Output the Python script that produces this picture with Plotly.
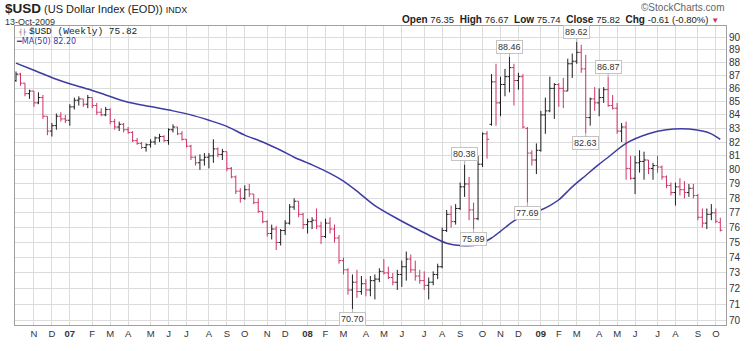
import math
import pandas as pd
import plotly.graph_objects as go

# ---------------- data (weekly bars) ----------------
first_week = "2006-10-09"
n_weeks = 158
dates = pd.date_range(first_week, periods=n_weeks, freq="7D")

opens = [86.6, 87.1, 86.4, 85.6, 85.8, 84.9, 85.3, 83.9, 82.8, 83.2,
         83.9, 83.7, 83.6, 84.6, 85.1, 85.2, 84.8, 85.3, 84.7, 84.2,
         84.0, 84.4, 83.5, 83.1, 83.3, 82.9, 82.7, 82.1, 81.9, 81.6,
         81.8, 82.0, 82.3, 82.4, 82.1, 82.9, 83.1, 82.6, 82.2, 81.7,
         80.9, 80.5, 80.7, 80.9, 81.0, 81.5, 81.1, 81.3, 80.1, 79.5,
         78.5, 78.0, 78.6, 78.3, 77.7, 77.1, 76.4, 75.6, 75.9, 75.0,
         75.8, 76.3, 77.4, 77.8, 76.9, 76.2, 76.4, 76.5, 76.1, 75.4,
         76.3, 75.9, 75.3, 73.8, 73.2, 71.9, 72.4, 71.8, 72.3, 71.9,
         72.5, 72.6, 73.1, 73.0, 72.7, 72.4, 72.9, 73.4, 73.9, 73.2,
         72.8, 72.5, 72.2, 72.4, 72.9, 73.4, 75.8, 76.9, 76.4, 77.3,
         78.8, 79.0, 77.2, 76.6, 80.4, 82.6, 83.3, 86.5, 84.9, 86.3,
         86.9, 87.6, 86.6, 86.9, 83.0, 81.2, 80.7, 81.4, 84.0, 84.3,
         86.0, 86.3, 86.0, 85.8, 87.9, 88.1, 88.8, 87.5, 83.8, 85.2,
         84.9, 85.3, 85.9, 84.7, 84.5, 82.8, 83.1, 80.1, 79.4, 80.5,
         80.6, 80.7, 80.1, 80.3, 80.2, 79.5, 78.9, 78.4, 78.8, 78.6,
         78.4, 78.7, 78.2, 76.7, 76.3, 76.9, 77.0, 76.35]
highs = [87.3, 87.2, 86.4, 85.9, 85.8, 85.7, 85.5, 83.9, 83.4, 84.1,
         84.2, 84.0, 84.8, 85.3, 85.4, 85.2, 85.5, 85.3, 84.9, 84.5,
         84.6, 84.5, 83.7, 83.5, 83.4, 83.1, 82.8, 82.3, 82.0, 81.9,
         82.2, 82.4, 82.6, 82.5, 83.0, 83.3, 83.1, 82.8, 82.2, 81.8,
         81.0, 81.1, 81.2, 81.2, 82.2, 81.6, 81.5, 81.3, 80.2, 79.6,
         78.7, 78.9, 79.0, 78.3, 78.0, 77.1, 76.5, 76.2, 76.1, 75.9,
         76.5, 77.6, 78.0, 77.8, 77.0, 76.6, 76.7, 77.3, 76.4, 76.6,
         76.7, 76.2, 75.5, 74.0, 73.3, 72.9, 73.2, 72.8, 72.6, 72.8,
         72.9, 73.3, 73.9, 73.4, 73.0, 73.2, 73.8, 74.4, 74.2, 73.8,
         73.2, 73.1, 72.7, 73.1, 73.6, 76.0, 77.2, 77.5, 77.6, 79.1,
         80.38, 79.5, 77.7, 81.0, 82.7, 82.8, 87.1, 87.9, 86.9, 87.5,
         88.46, 87.9, 87.2, 87.1, 83.1, 81.4, 81.9, 84.3, 85.3, 86.9,
         86.4, 86.4, 86.8, 88.3, 88.7, 89.62, 89.4, 88.6, 85.3, 86.1,
         86.0, 86.1, 86.87, 85.5, 84.9, 83.4, 83.5, 81.0, 81.0, 81.4,
         81.3, 80.7, 80.5, 81.0, 80.3, 79.6, 79.1, 79.1, 79.4, 79.2,
         79.0, 79.0, 78.3, 77.3, 77.3, 77.6, 77.3, 76.67]
lows = [86.5, 86.2, 85.4, 85.2, 84.6, 84.8, 83.7, 82.5, 82.4, 82.9,
        83.5, 83.4, 83.2, 84.4, 84.7, 84.6, 84.5, 84.5, 84.0, 83.9,
        83.9, 83.3, 82.9, 82.8, 82.7, 82.6, 82.0, 81.8, 81.5, 81.3,
        81.6, 81.8, 82.0, 82.0, 81.8, 82.7, 82.5, 82.1, 81.6, 80.7,
        80.3, 80.0, 80.3, 80.1, 80.5, 80.9, 80.7, 79.9, 79.4, 78.3,
        77.7, 77.9, 78.1, 77.6, 77.0, 76.3, 75.4, 75.2, 74.5, 74.8,
        75.5, 76.2, 77.2, 76.7, 75.9, 75.6, 75.9, 75.9, 74.9, 75.3,
        75.6, 75.0, 73.6, 72.9, 71.6, 70.70, 71.4, 71.6, 71.5, 71.5,
        71.3, 72.4, 72.9, 72.6, 72.2, 71.9, 72.1, 72.5, 73.0, 72.5,
        72.3, 71.9, 71.3, 72.2, 72.6, 73.3, 75.7, 76.0, 76.2, 77.2,
        78.1, 76.5, 75.89, 76.5, 80.2, 80.8, 83.2, 83.2, 83.9, 85.4,
        85.7, 84.7, 85.9, 83.0, 77.69, 80.3, 79.7, 81.3, 82.6, 84.2,
        83.7, 84.6, 84.5, 85.8, 86.8, 87.9, 87.2, 82.63, 83.2, 84.3,
        83.9, 84.9, 84.6, 84.4, 82.6, 82.0, 79.3, 79.3, 78.3, 79.8,
        79.3, 79.7, 79.3, 79.8, 79.3, 78.7, 78.2, 77.5, 78.2, 78.0,
        78.1, 78.0, 76.5, 76.0, 75.9, 76.5, 76.3, 75.74]
closes = [87.1, 86.4, 85.6, 85.8, 84.9, 85.3, 83.9, 82.8, 83.2, 83.9,
          83.7, 83.6, 84.6, 85.1, 85.2, 84.8, 85.3, 84.7, 84.2, 84.0,
          84.4, 83.5, 83.1, 83.3, 82.9, 82.7, 82.1, 81.9, 81.6, 81.8,
          82.0, 82.3, 82.4, 82.1, 82.9, 83.1, 82.6, 82.2, 81.7, 80.9,
          80.5, 80.7, 80.9, 81.0, 81.5, 81.1, 81.3, 80.1, 79.5, 78.5,
          78.0, 78.6, 78.3, 77.7, 77.1, 76.4, 75.6, 75.9, 75.0, 75.8,
          76.3, 77.4, 77.8, 76.9, 76.2, 76.4, 76.5, 76.1, 75.4, 76.3,
          75.9, 75.3, 73.8, 73.2, 71.9, 72.4, 71.8, 72.3, 71.9, 72.5,
          72.6, 73.1, 73.0, 72.7, 72.4, 72.9, 73.4, 73.9, 73.2, 72.8,
          72.5, 72.2, 72.4, 72.9, 73.4, 75.8, 76.9, 76.4, 77.3, 78.8,
          79.0, 77.2, 76.6, 80.4, 82.6, 82.2, 86.5, 84.9, 86.3, 86.9,
          87.6, 86.6, 86.9, 83.1, 81.2, 80.7, 81.4, 84.0, 84.3, 86.0,
          86.3, 86.0, 85.8, 87.9, 88.1, 88.8, 87.5, 83.8, 85.2, 84.9,
          85.3, 85.9, 84.7, 84.5, 82.8, 83.1, 80.1, 79.4, 80.5, 80.6,
          80.7, 80.1, 80.3, 80.2, 79.5, 78.9, 78.4, 78.8, 78.6, 78.4,
          78.7, 78.2, 76.7, 76.3, 76.9, 77.0, 76.43, 75.82]

# 50-week moving average, read at selected weeks (week number -> value)
ma_weeks = [0, 4, 9, 12, 16, 20, 25, 30, 35, 39, 43, 47, 51, 55, 59, 62, 66,
            70, 73, 76, 80, 85, 90, 93, 96, 99, 103, 106, 108, 111, 113, 115,
            117, 119, 121, 124, 127, 130, 132, 136, 141, 145, 150, 153, 155, 157]
ma_values = [87.95, 87.4, 86.7, 86.35, 85.95, 85.5, 84.95, 84.62, 84.3, 84.0,
             83.6, 83.15, 82.5, 82.0, 81.4, 80.9, 80.35, 79.75, 79.2, 78.5,
             77.5, 76.6, 75.8, 75.35, 74.95, 74.8, 74.85, 75.3, 75.75, 76.45,
             76.75, 77.0, 77.2, 77.5, 77.9, 78.8, 79.6, 80.4, 80.9, 81.9,
             82.6, 82.9, 82.95, 82.8, 82.6, 82.2]

# labelled extremes: week number, price, label above (+1) or below (-1)
extreme_weeks = [75, 100, 102, 110, 114, 125, 127, 132]
extreme_values = [70.70, 80.38, 75.89, 88.46, 77.69, 89.62, 82.63, 86.87]
extreme_side = [-1, 1, -1, 1, -1, 1, -1, 1]

price_ticks = list(range(70, 91))
month_letters = ["J", "F", "M", "A", "M", "J", "J", "A", "S", "O", "N", "D"]

# ---------------- layout geometry ----------------
W, H = 754, 351
L_PX, R_PX, T_PX, B_PX = 15, 726, 26, 336
RED = "#cc3366"
BLACK = "#1e1e1e"
MA_BLUE = "#3c3ca2"
GRID = "#dcdcdc"
SANS = "Liberation Sans, Arial, sans-serif"


def px_x(x):
    return (x - L_PX) / (R_PX - L_PX)


def px_y(y):
    return (B_PX - y) / (B_PX - T_PX)


# month ticks at the first weekly bar of every month (first partial month unlabeled)
tickvals, ticktext, seen = [], [], set()
for k, d in enumerate(dates):
    key = (d.year, d.month)
    if key in seen:
        continue
    seen.add(key)
    if k == 0:
        continue
    tickvals.append(d)
    ticktext.append(f"<b>{d.year % 100:02d}</b>" if d.month == 1 else month_letters[d.month - 1])

# x range: one weekly step = 4.486 px
step_px = 4.486
px_per_day = step_px / 7.0
x0 = dates[0] - pd.Timedelta(days=(16 - L_PX) / px_per_day)
x1 = x0 + pd.Timedelta(days=(R_PX - L_PX) / px_per_day)

fig = go.Figure()
fig.add_trace(go.Ohlc(
    x=dates, open=opens, high=highs, low=lows, close=closes,
    increasing=dict(line=dict(color=BLACK, width=1)),
    decreasing=dict(line=dict(color=RED, width=1)),
    tickwidth=0.45, hoverinfo="skip", showlegend=False,
))
fig.add_trace(go.Scatter(
    x=[dates[k] for k in ma_weeks], y=ma_values, mode="lines",
    line=dict(color=MA_BLUE, width=1.5, shape="spline", smoothing=0.8),
    hoverinfo="skip", showlegend=False,
))

fig.update_layout(
    width=W, height=H,
    margin=dict(l=L_PX, r=W - R_PX, t=T_PX, b=H - B_PX),
    paper_bgcolor="white", plot_bgcolor="white",
    font=dict(family=SANS, color="#333", size=10),
    showlegend=False,
    xaxis=dict(
        type="date", range=[x0, x1], rangeslider=dict(visible=False),
        tickmode="array", tickvals=tickvals, ticktext=ticktext,
        showgrid=True, gridcolor=GRID, gridwidth=1,
        showline=True, linecolor="#a0a0a0", linewidth=1, mirror=True,
        ticks="", tickfont=dict(size=9.5, color="#333"), zeroline=False,
    ),
    yaxis=dict(
        type="log", range=[math.log10(69.70), math.log10(90.90)],
        side="right", tickmode="array", tickvals=price_ticks,
        ticktext=[str(v) for v in price_ticks],
        showgrid=True, gridcolor=GRID, gridwidth=1,
        showline=True, linecolor="#a0a0a0", linewidth=1, mirror=True,
        ticks="", tickfont=dict(size=10, color="#333"), zeroline=False,
    ),
)

ann = []
ann.append(dict(
    x=px_x(3), y=px_y(8), xref="paper", yref="paper", xanchor="left", yanchor="middle",
    showarrow=False,
    text="<span style='font-size:13.5px'><b>$USD</b></span> (US Dollar Index (EOD)) "
         "<span style='font-size:9px'>INDX</span>",
    font=dict(size=11, color="#222", family=SANS),
))
ann.append(dict(
    x=px_x(3), y=px_y(21.5), xref="paper", yref="paper", xanchor="left", yanchor="middle",
    showarrow=False, text="13-Oct-2009",
    font=dict(size=9, color="#333", family=SANS),
))
ann.append(dict(
    x=px_x(727), y=px_y(7), xref="paper", yref="paper", xanchor="right", yanchor="middle",
    showarrow=False, text="©StockCharts.com",
    font=dict(size=10, color="#666", family=SANS),
))
ann.append(dict(
    x=px_x(721), y=px_y(19.5), xref="paper", yref="paper", xanchor="right", yanchor="middle",
    showarrow=False,
    text="<b>Open</b> <span style='font-size:9.5px'>76.35</span>  <b>High</b> "
         "<span style='font-size:9.5px'>76.67</span>  <b>Low</b> "
         "<span style='font-size:9.5px'>75.74</span>  <b>Close</b> "
         "<span style='font-size:9.5px'>75.82</span>  <b>Chg</b> "
         "<span style='font-size:9.5px'>-0.61 (-0.80%)</span> "
         f"<span style='color:{RED};font-size:8px'>▼</span>",
    font=dict(size=10, color="#222", family=SANS),
))
ann.append(dict(
    x=px_x(16), y=px_y(32), xref="paper", yref="paper", xanchor="left", yanchor="middle",
    showarrow=False, text="┤├",
    font=dict(size=6, color="#444", family="DejaVu Sans Mono, monospace"),
))
ann.append(dict(
    x=px_x(27), y=px_y(32), xref="paper", yref="paper", xanchor="left", yanchor="middle",
    showarrow=False, text="$USD (Weekly) 75.82",
    font=dict(size=9.5, color="#222", family="Liberation Mono, Courier New, monospace"),
))
ann.append(dict(
    x=px_x(14), y=px_y(42), xref="paper", yref="paper", xanchor="left", yanchor="middle",
    showarrow=False, text="━MA(50) 82.20",
    font=dict(size=8, color=MA_BLUE, family="DejaVu Sans, sans-serif"),
))

# boxed labels on the major highs and lows
for k, v, s in zip(extreme_weeks, extreme_values, extreme_side):
    ann.append(dict(
        x=dates[k], y=math.log10(v), xref="x", yref="y",
        text=f"{v:.2f}", showarrow=True, arrowhead=0, arrowwidth=1,
        arrowcolor="#b0b0b0", ax=0, ay=-10 * s, standoff=0,
        bgcolor="white", bordercolor="#c4c4c4", borderwidth=1, borderpad=1,
        font=dict(size=9, color="#333", family=SANS),
    ))

fig.update_layout(annotations=ann)

fig.write_html("out.html")
